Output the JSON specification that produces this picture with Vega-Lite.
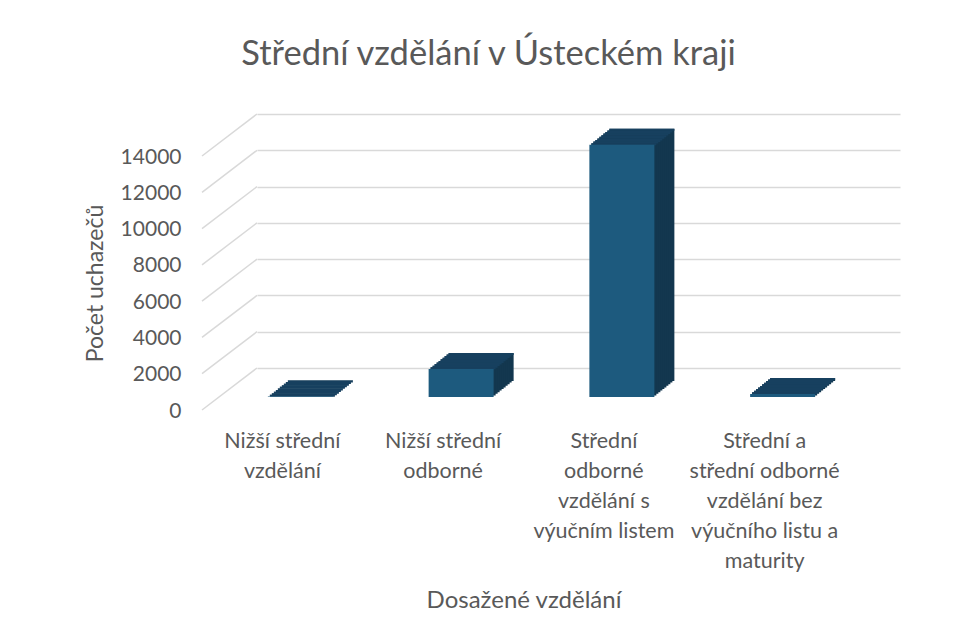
{
  "$schema": "https://vega.github.io/schema/vega-lite/v6.json",
  "width": 643,
  "height": 254,
  "autosize": {"type": "none"},
  "padding": {"left": 257, "top": 114, "right": 56, "bottom": 276},
  "background": "white",
  "config": {"view": {"stroke": null}},
  "title": {
    "text": "Střední vzdělání v Ústeckém kraji",
    "font": "Lato", "fontSize": 34.5, "fontWeight": "normal", "color": "#595959",
    "anchor": "middle", "dx": -90, "baseline": "alphabetic", "offset": 14
  },
  "data": {"values": [
    {"vzdelani": "Nižší střední vzdělání", "pocet": 30},
    {"vzdelani": "Nižší střední odborné", "pocet": 1550},
    {"vzdelani": "Střední odborné vzdělání s výučním listem", "pocet": 13900},
    {"vzdelani": "Střední a střední odborné vzdělání bez výučního listu a maturity", "pocet": 170}
  ]},
  "encoding": {
    "x": {
      "field": "vzdelani", "type": "nominal", "sort": null,
      "scale": {"paddingInner": 0, "paddingOuter": 0},
      "axis": {
        "title": "Dosažené vzdělání", "titleFont": "Lato", "titleFontSize": 24, "titleFontWeight": "normal",
        "titleColor": "#595959", "titleX": 266.5, "titleY": 232, "titleBaseline": "middle",
        "labelAngle": 0, "labelFont": "Lato", "labelFontSize": 21.5, "labelColor": "#595959",
        "labelOffset": -55, "labelPadding": 62, "labelLineHeight": 30, "labelBaseline": "top",
        "labelLimit": 0,
        "labelExpr": "{'Nižší střední vzdělání': ['Nižší střední', 'vzdělání'], 'Nižší střední odborné': ['Nižší střední', 'odborné'], 'Střední odborné vzdělání s výučním listem': ['Střední', 'odborné', 'vzdělání s', 'výučním listem'], 'Střední a střední odborné vzdělání bez výučního listu a maturity': ['Střední a', 'střední odborné', 'vzdělání bez', 'výučního listu a', 'maturity']}[datum.value]",
        "domain": false, "ticks": false, "grid": false
      }
    },
    "y": {
      "field": "pocet", "type": "quantitative",
      "scale": {"domain": [0, 14000], "nice": false},
      "axis": {
        "title": "Počet uchazečů", "titleFont": "Lato", "titleFontSize": 23, "titleFontWeight": "normal",
        "titleColor": "#595959", "titleX": -162, "titleY": 169, "titleBaseline": "middle",
        "values": [0, 2000, 4000, 6000, 8000, 10000, 12000, 14000], "format": "d",
        "labelFont": "Lato", "labelFontSize": 21, "labelColor": "#595959",
        "labelPadding": 76, "labelOffset": 43, "labelBaseline": "middle",
        "domain": false, "ticks": false, "grid": true, "gridColor": "#d9d9d9", "gridWidth": 1.5
      }
    }
  },
  "layer": [
    {
      "data": {"values": [{"v": 0}, {"v": 2000}, {"v": 4000}, {"v": 6000}, {"v": 8000}, {"v": 10000}, {"v": 12000}, {"v": 14000}]},
      "mark": {"type": "rule", "color": "#d9d9d9", "strokeWidth": 1.5, "y2Offset": 42},
      "encoding": {
        "y": {"field": "v", "type": "quantitative"},
        "y2": {"field": "v"},
        "x": {"value": 0},
        "x2": {"value": -55}
      }
    },
    {"mark": {"type": "bar", "width": 65, "color": "#13374f", "xOffset": -17, "yOffset": 13, "y2Offset": 13}},
    {"mark": {"type": "bar", "width": 65, "color": "#13374f", "xOffset": -19, "yOffset": 14.6, "y2Offset": 14.6}},
    {"mark": {"type": "bar", "width": 65, "color": "#13374f", "xOffset": -21, "yOffset": 16.2, "y2Offset": 16.2}},
    {"mark": {"type": "bar", "width": 65, "color": "#13374f", "xOffset": -23, "yOffset": 17.8, "y2Offset": 17.8}},
    {"mark": {"type": "bar", "width": 65, "color": "#13374f", "xOffset": -25, "yOffset": 19.4, "y2Offset": 19.4}},
    {"mark": {"type": "bar", "width": 65, "color": "#13374f", "xOffset": -27, "yOffset": 21, "y2Offset": 21}},
    {"mark": {"type": "bar", "width": 65, "color": "#13374f", "xOffset": -29, "yOffset": 22.6, "y2Offset": 22.6}},
    {"mark": {"type": "bar", "width": 65, "color": "#13374f", "xOffset": -31, "yOffset": 24.2, "y2Offset": 24.2}},
    {"mark": {"type": "bar", "width": 65, "color": "#13374f", "xOffset": -33, "yOffset": 25.8, "y2Offset": 25.8}},
    {"mark": {"type": "bar", "width": 65, "color": "#13374f", "xOffset": -35, "yOffset": 27.4, "y2Offset": 27.4}},
    {"mark": {"type": "bar", "width": 65, "color": "#17405f", "xOffset": -17, "yOffset": 13, "y2Offset": 15}, "encoding": {"y2": {"field": "pocet"}}},
    {"mark": {"type": "bar", "width": 65, "color": "#17405f", "xOffset": -19, "yOffset": 14.6, "y2Offset": 16.6}, "encoding": {"y2": {"field": "pocet"}}},
    {"mark": {"type": "bar", "width": 65, "color": "#17405f", "xOffset": -21, "yOffset": 16.2, "y2Offset": 18.2}, "encoding": {"y2": {"field": "pocet"}}},
    {"mark": {"type": "bar", "width": 65, "color": "#17405f", "xOffset": -23, "yOffset": 17.8, "y2Offset": 19.8}, "encoding": {"y2": {"field": "pocet"}}},
    {"mark": {"type": "bar", "width": 65, "color": "#17405f", "xOffset": -25, "yOffset": 19.4, "y2Offset": 21.4}, "encoding": {"y2": {"field": "pocet"}}},
    {"mark": {"type": "bar", "width": 65, "color": "#17405f", "xOffset": -27, "yOffset": 21, "y2Offset": 23}, "encoding": {"y2": {"field": "pocet"}}},
    {"mark": {"type": "bar", "width": 65, "color": "#17405f", "xOffset": -29, "yOffset": 22.6, "y2Offset": 24.6}, "encoding": {"y2": {"field": "pocet"}}},
    {"mark": {"type": "bar", "width": 65, "color": "#17405f", "xOffset": -31, "yOffset": 24.2, "y2Offset": 26.2}, "encoding": {"y2": {"field": "pocet"}}},
    {"mark": {"type": "bar", "width": 65, "color": "#17405f", "xOffset": -33, "yOffset": 25.8, "y2Offset": 27.8}, "encoding": {"y2": {"field": "pocet"}}},
    {"mark": {"type": "bar", "width": 65, "color": "#17405f", "xOffset": -35, "yOffset": 27.4, "y2Offset": 29.4}, "encoding": {"y2": {"field": "pocet"}}},
    {"mark": {"type": "bar", "width": 65, "color": "#1d5a7e", "xOffset": -37, "yOffset": 29, "y2Offset": 29}}
  ]
}
